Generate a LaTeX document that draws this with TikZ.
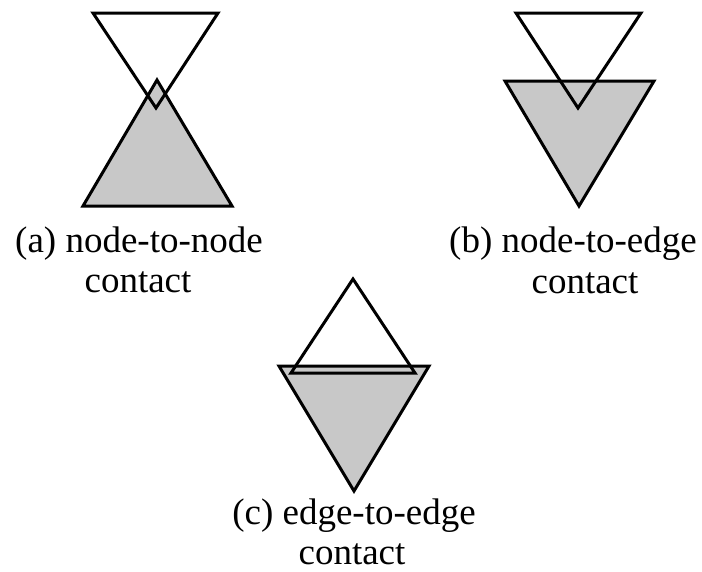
\documentclass[tikz,border=0pt]{standalone}
\usepackage{fontspec}
\setmainfont{Liberation Serif}
\definecolor{shade}{RGB}{200,200,200}
\begin{document}
\begin{tikzpicture}[x=1pt,y=-1pt,
  tri/.style={draw=black,line width=3pt,line join=miter},
  grayfill/.style={fill=shade},
  lbl/.style={font=\fontsize{37}{40}\selectfont,anchor=base,inner sep=0pt}]
\useasboundingbox (0,0) rectangle (702,571);
% (a) node-to-node
\coordinate (a1) at (93,13); \coordinate (a2) at (218,13); \coordinate (a3) at (156,108);
\coordinate (b1) at (157,80); \coordinate (b2) at (232,206); \coordinate (b3) at (83,206);
\fill[grayfill] (b1) -- (b2) -- (b3) -- cycle;
\draw[tri] (a1) -- (a2) -- (a3) -- cycle;
\draw[tri] (b1) -- (b2) -- (b3) -- cycle;
% (b) node-to-edge
\coordinate (c1) at (516,13); \coordinate (c2) at (641,13); \coordinate (c3) at (578,108);
\coordinate (d1) at (505,81); \coordinate (d2) at (654,81); \coordinate (d3) at (579,206);
\fill[grayfill] (d1) -- (d2) -- (d3) -- cycle;
\draw[tri] (c1) -- (c2) -- (c3) -- cycle;
\draw[tri] (d1) -- (d2) -- (d3) -- cycle;
% (c) edge-to-edge
\coordinate (e1) at (353,279); \coordinate (e2) at (415,373); \coordinate (e3) at (291,373);
\coordinate (f1) at (279,366); \coordinate (f2) at (429,366); \coordinate (f3) at (354,491);
\fill[grayfill] (f1) -- (f2) -- (f3) -- cycle;
\draw[tri] (e1) -- (e2) -- (e3) -- cycle;
\draw[tri] (f1) -- (f2) -- (f3) -- cycle;
% labels
\node[lbl] (la1) at (139,252) {(a) node-to-node};
\node[lbl] (la2) at (138,292) {contact};
\node[lbl] (lb1) at (573,252) {(b) node-to-edge};
\node[lbl] (lb2) at (585,293) {contact};
\node[lbl] (lc1) at (354,524) {(c) edge-to-edge};
\node[lbl] (lc2) at (352,564) {contact};
\end{tikzpicture}
\end{document}
